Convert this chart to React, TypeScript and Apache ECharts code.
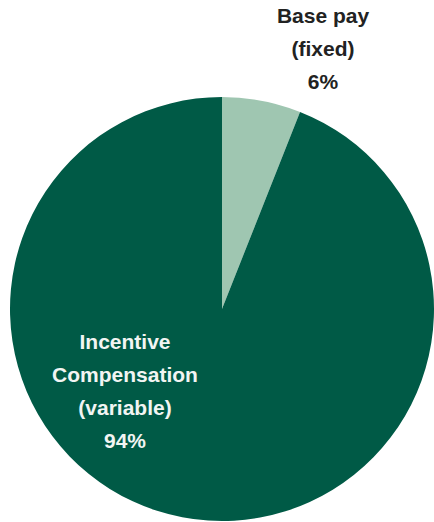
import React, { useEffect, useRef } from "react";
import * as echarts from "echarts";

const categories = ["Base pay\n(fixed)", "Incentive\nCompensation\n(variable)"];
const values = [6, 94];
const colors = ["#9fc6b1", "#005a46"];
const labelColors = ["#222222", "#f2f5f3"];

export default function App() {
  const ref = useRef<HTMLDivElement>(null);
  useEffect(() => {
    if (!ref.current) return;
    const chart = echarts.init(ref.current, null, { renderer: "svg" });
    const labelPos = [
      { x: 323, y: 48 },
      { x: 125, y: 391 },
    ];
    chart.setOption({
      animation: false,
      backgroundColor: "#ffffff",
      series: [
        {
          type: "pie",
          center: [222, 309],
          radius: 212,
          startAngle: 90,
          clockwise: true,
          silent: true,
          itemStyle: { borderWidth: 0 },
          labelLine: { show: false },
          data: categories.map((name, i) => ({
            name,
            value: values[i],
            itemStyle: { color: colors[i] },
            label: {
              show: true,
              position: "inside",
              formatter: (p: any) => `${p.name}\n${p.value}%`,
              color: labelColors[i],
              fontFamily: "Liberation Sans, Arial, sans-serif",
              fontWeight: "bold",
              fontSize: 21,
              lineHeight: 33,
              align: "center",
              verticalAlign: "middle",
              textBorderWidth: 0,
            },
          })),
          labelLayout: (params: any) => ({
            x: labelPos[params.dataIndex].x,
            y: labelPos[params.dataIndex].y,
            align: "center",
            verticalAlign: "middle",
          }),
        },
      ],
    });
    return () => chart.dispose();
  }, []);
  return (
    <div
      ref={ref}
      style={{ position: "absolute", left: 0, top: 0, width: 434, height: 522 }}
    />
  );
}
